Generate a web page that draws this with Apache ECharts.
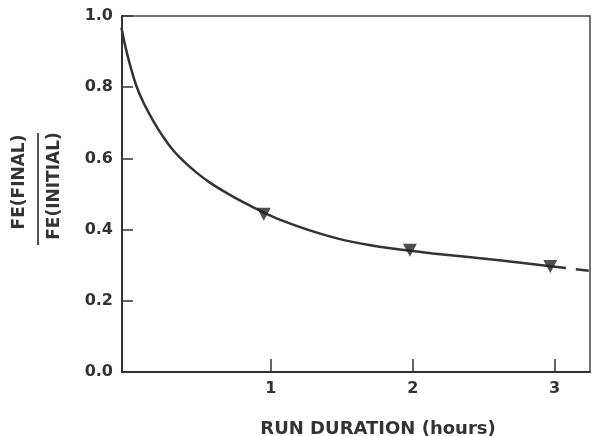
<!DOCTYPE html>
<html>
<head>
<meta charset="utf-8">
<script src="https://cdn.jsdelivr.net/npm/echarts@6/dist/echarts.min.js"></script>
<style>
html,body{margin:0;padding:0;background:#fff;}
#c{width:593px;height:436px;}
</style>
</head>
<body>
<div id="c"></div>
<script>
// Fitted curve (hours, Fe ratio)
var curveX = [-0.054, -0.03, 0.005, 0.051, 0.101, 0.171, 0.241, 0.312, 0.382, 0.476, 0.570, 0.687, 0.804, 0.944, 1.062, 1.296, 1.531, 1.765, 1.976, 2.14, 2.61, 2.973, 3.08];
var curveY = [0.968, 0.921, 0.865, 0.804, 0.757, 0.705, 0.660, 0.622, 0.593, 0.560, 0.532, 0.503, 0.477, 0.449, 0.428, 0.395, 0.369, 0.352, 0.341, 0.333, 0.314, 0.297, 0.292];
// Extrapolated (dashed) part
var extX = [3.08, 3.25];
var extY = [0.292, 0.284];
// Measured points
var pointX = [0.95, 1.98, 2.97];
var pointY = [0.443, 0.342, 0.296];
// Tick labels
var xTicks = [1, 2, 3];
var yTicks = [0, 0.2, 0.4, 0.6, 0.8, 1.0];

function zip(a, b) { return a.map(function (v, i) { return [v, b[i]]; }); }

var ink = '#333';
var font = 'DejaVu Sans';

var chart = echarts.init(document.getElementById('c'), null, {renderer: 'canvas'});
chart.setOption({
  animation: false,
  backgroundColor: '#fff',
  grid: {left: 122, right: 3, top: 16, bottom: 64, show: true, borderColor: '#444', borderWidth: 1.5,
    containLabel: false, outerBoundsMode: 'none'},
  xAxis: {
    type: 'value', min: -0.05, max: 3.25,
    name: 'RUN DURATION (hours)', nameLocation: 'middle', nameGap: 48,
    nameTextStyle: {fontFamily: font, fontWeight: 'bold', fontSize: 18, color: ink, padding: [0, 0, 0, 44]},
    axisLine: {show: true, onZero: false, lineStyle: {color: ink, width: 2}},
    axisTick: {show: true, inside: true, length: 13, customValues: xTicks, lineStyle: {color: ink, width: 1.5}},
    axisLabel: {customValues: xTicks, margin: 9, fontFamily: font, fontWeight: 'bold', fontSize: 16, color: ink},
    splitLine: {show: false}
  },
  yAxis: {
    type: 'value', min: 0, max: 1, interval: 0.2,
    axisLine: {show: true, onZero: false, lineStyle: {color: ink, width: 2}},
    axisTick: {show: true, inside: true, length: 11, lineStyle: {color: ink, width: 1.5}},
    axisLabel: {margin: 9, fontFamily: font, fontWeight: 'bold', fontSize: 16, color: ink,
      formatter: function (v) { return v.toFixed(1); }},
    splitLine: {show: false}
  },
  series: [
    {type: 'line', data: zip(curveX, curveY), smooth: 0.3, showSymbol: false,
      lineStyle: {color: ink, width: 2.5}, z: 2},
    {type: 'line', data: zip(extX, extY), showSymbol: false,
      lineStyle: {color: ink, width: 2.5, type: [13, 10], dashOffset: 13}, z: 2},
    {type: 'scatter', data: zip(pointX, pointY), symbol: 'triangle', symbolRotate: 180,
      symbolSize: [14, 13], itemStyle: {color: '#222'}, z: 3}
  ],
  graphic: [
    {type: 'text', x: 20, y: 182, rotation: Math.PI / 2,
      style: {text: 'FE(FINAL)', font: 'bold 17px "DejaVu Sans"', fill: ink, align: 'center', verticalAlign: 'middle'}},
    {type: 'line', shape: {x1: 38, y1: 133, x2: 38, y2: 245}, style: {stroke: '#555', lineWidth: 2}},
    {type: 'text', x: 55, y: 186, rotation: Math.PI / 2,
      style: {text: 'FE(INITIAL)', font: 'bold 17px "DejaVu Sans"', fill: ink, align: 'center', verticalAlign: 'middle'}}
  ]
});
</script>
</body>
</html>
